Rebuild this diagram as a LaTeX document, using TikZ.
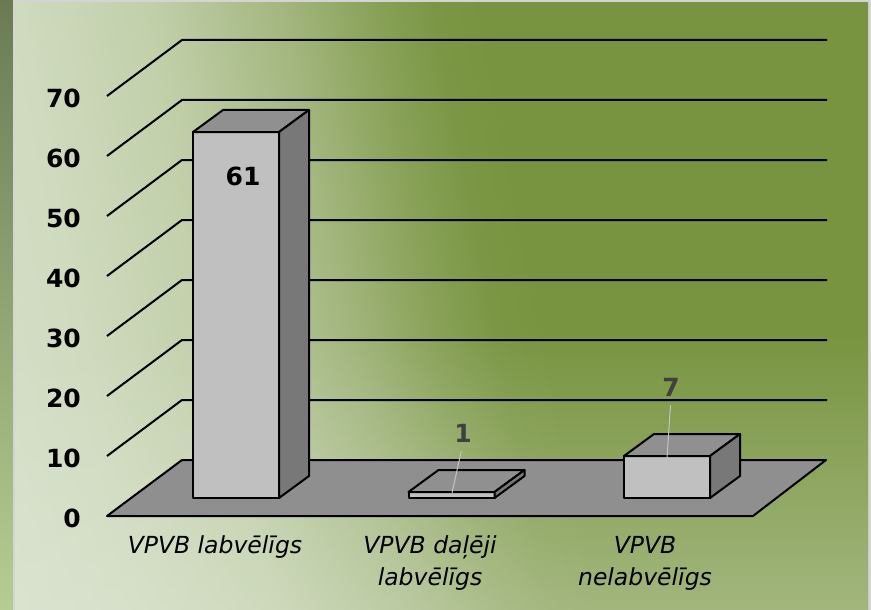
\documentclass[tikz,border=0pt]{standalone}
\usepackage{fontspec}
\setmainfont{DejaVu Sans}
\usepackage{xcolor}
\usepackage{tikz}
\usetikzlibrary{positioning,fadings}

\definecolor{stripTop}{HTML}{6A7B54}
\definecolor{stripBot}{HTML}{B5CD92}
\definecolor{fadeLight}{HTML}{E3EADB}
\definecolor{fadeWhisper}{HTML}{D8E1CC}
\definecolor{fadePale}{HTML}{CFDABE}
\definecolor{fadeSoft}{HTML}{C1CFA9}
\definecolor{fadeGreen}{HTML}{A3B67E}
\definecolor{fadeMoss}{HTML}{88A157}
\definecolor{fadeDeep}{HTML}{7B9745}
\definecolor{fadeOlive}{HTML}{789440}
\definecolor{barFront}{HTML}{C0C0C0}
\definecolor{barTop}{HTML}{909090}
\definecolor{barSide}{HTML}{787878}
\definecolor{floorGray}{HTML}{8F8F8F}
\definecolor{frameGray}{HTML}{D4D4D4}
\definecolor{leaderGray}{HTML}{C4C4C4}
\definecolor{valueGray}{HTML}{404040}

\pgfdeclareverticalshading{panelfade}{100bp}{color(0bp)=(fadeLight); color(18bp)=(fadeWhisper); color(28bp)=(fadePale); color(36bp)=(fadeSoft); color(44bp)=(fadeGreen); color(49.5bp)=(fadeMoss); color(53bp)=(fadeDeep); color(56bp)=(fadeOlive); color(100bp)=(fadeOlive)}
\tikzfading[name=bottomlift, top color=transparent!100, bottom color=transparent!60]

\begin{document}
\begin{tikzpicture} [ x=1pt, y=-1pt,
    grid/.style={line width=2pt},
    outline/.style={draw=black, line width=2pt, line join=round},
    axislab/.style={anchor=east, inner sep=0pt, font=\bfseries\fontsize{25}{28}\selectfont},
    catlab/.style={align=center, inner sep=0pt, font=\itshape\fontsize{23.5}{32}\selectfont},
    vallab/.style={inner sep=1pt, font=\bfseries\fontsize{25}{28}\selectfont},
    leader/.style={draw=leaderGray, line width=1pt, shorten <=8pt},
    ]
    \useasboundingbox (0,0) rectangle (871,610);

    % backdrop
    \shade[top color=stripTop, bottom color=stripBot] (0,0) rectangle (13,610);
    \fill[frameGray] (13,0) rectangle (871,610);
    \shade[shading=panelfade, shading angle=-79.2] (15,3) rectangle (868,610);
    \fill[fadeLight, path fading=bottomlift] (15,330) rectangle (868,610);

    % grid and walls
    \foreach \k in {1,...,7}
        \draw[grid] (107,{516-60*\k}) -- (182,{460-60*\k}) -- (827,{460-60*\k});
    \foreach \v [count=\k from 0] in {0,10,...,70}
        \node[axislab] (tick\k) at (81,{518-60*\k}) {\v};

    \draw[outline, fill=floorGray] (107,516) -- (753,516) -- (826,460) -- (182,460) -- cycle;

    % bars
    \foreach \bx/\bh/\bn in {193/366/labv, 408.5/6/dalj, 624/42/nelabv} {
        \draw[outline, fill=barFront] (\bx,498) rectangle ({\bx+86},{498-\bh});
        \draw[outline, fill=barTop] (\bx,{498-\bh}) -- ++(30,-22) -- ++(86,0) -- ++(-30,22) -- cycle;
        \draw[outline, fill=barSide] ({\bx+86},498) -- ++(30,-22) -- ++(0,-\bh) -- ++(-30,22) -- cycle;
    }

    % values
    \node[vallab] (val1) at (243,176) {61};
    \node[vallab, text=valueGray] (val2) at (463,433) {1};
    \node[vallab, text=valueGray] (val3) at (671,387) {7};
    \coordinate (tip2) at (452,493);
    \coordinate (tip3) at (667,458);
    \draw[leader] (val2.south) -- (tip2);
    \draw[leader] (val3.south) -- (tip3);

    % categories
    \node[catlab] (cat1) at (215,547) {VPVB labvēlīgs};
    \node[catlab] (cat2) at (430,563) {VPVB daļēji\\labvēlīgs};
    \node[catlab] (cat3) at (645,563) {VPVB\\nelabvēlīgs};
\end{tikzpicture}
\end{document}
